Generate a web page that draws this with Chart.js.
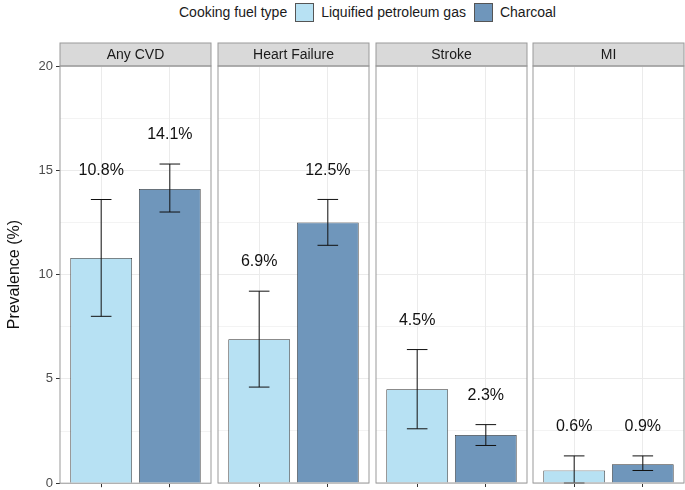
<!DOCTYPE html>
<html>
<head>
<meta charset="utf-8">
<script src="https://cdn.jsdelivr.net/npm/chart.js@4/dist/chart.umd.min.js"></script>
<style>
  body { margin: 0; background: #fff; font-family: 'Liberation Sans', Arial, sans-serif; }
  #wrap { position: relative; width: 685px; height: 490px; overflow: hidden; }
  .panel { position: absolute; top: 0; }
  #legend { position: absolute; left: 179px; top: 2px; height: 20px; display: flex; align-items: center; font-size: 14px; color: #1a1a1a; white-space: nowrap; }
  #legend .key { width: 19px; height: 19px; box-sizing: border-box; border: 1px solid #555; margin: 0 7px 0 8px; }
</style>
</head>
<body>
<div id="wrap">
  <div id="legend"></div>
  <canvas id="p0" class="panel"></canvas>
  <canvas id="p1" class="panel"></canvas>
  <canvas id="p2" class="panel"></canvas>
  <canvas id="p3" class="panel"></canvas>
</div>
<script>
// data
const panels = ['Any CVD', 'Heart Failure', 'Stroke', 'MI'];
const fuelTypes = ['Liquified petroleum gas', 'Charcoal'];
const lpgValues = [10.8, 6.9, 4.5, 0.6];
const lpgLower = [8.0, 4.6, 2.6, 0.0];
const lpgUpper = [13.6, 9.2, 6.4, 1.3];
const charcoalValues = [14.1, 12.5, 2.3, 0.9];
const charcoalLower = [13.0, 11.4, 1.8, 0.6];
const charcoalUpper = [15.3, 13.6, 2.8, 1.3];
const yTicks = [0, 5, 10, 15, 20];

const fuelColors = ['#b7e1f3', '#6f96bb'];
const panelLefts = [60, 218, 375.5, 533];
const panelWidth = 151;

// legend as html text
const legend = document.getElementById('legend');
legend.innerHTML = '<span>Cooking fuel type</span>' + fuelTypes.map((f, i) =>
  `<span class="key" style="background:${fuelColors[i]}"></span><span>${f}</span>`).join('');

// strip, border, error bars and value labels
const facetPlugin = {
  id: 'facet',
  beforeDatasetsDraw(chart) {
    const { ctx, chartArea: a } = chart;
    ctx.save();
    ctx.fillStyle = '#d9d9d9';
    ctx.fillRect(a.left, 43, a.right - a.left, 23);
    ctx.strokeStyle = '#999';
    ctx.lineWidth = 1;
    ctx.strokeRect(a.left, 43, a.right - a.left, 23);
    ctx.fillStyle = '#1a1a1a';
    ctx.font = '14px "Liberation Sans", Arial, sans-serif';
    ctx.textAlign = 'center';
    ctx.textBaseline = 'middle';
    ctx.fillText(chart.options.panelTitle, (a.left + a.right) / 2, 55);
    ctx.restore();
  },
  afterDatasetsDraw(chart) {
    const { ctx, chartArea: a, scales } = chart;
    const x = scales.x, y = scales.y;
    const err = chart.options.errors;
    ctx.save();
    ctx.strokeStyle = '#111';
    ctx.lineWidth = 1;
    err.forEach((e, i) => {
      const cx = x.getPixelForValue(i + 1);
      const l = x.getPixelForValue(i + 1 - 0.15), r = x.getPixelForValue(i + 1 + 0.15);
      const top = y.getPixelForValue(e.hi), bot = y.getPixelForValue(e.lo);
      ctx.beginPath();
      ctx.moveTo(cx, top); ctx.lineTo(cx, bot);
      ctx.moveTo(l, top); ctx.lineTo(r, top);
      ctx.moveTo(l, bot); ctx.lineTo(r, bot);
      ctx.stroke();
      ctx.fillStyle = '#111';
      ctx.font = '16px "Liberation Sans", Arial, sans-serif';
      ctx.textAlign = 'center';
      ctx.textBaseline = 'middle';
      ctx.fillText(e.v.toFixed(1) + '%', cx, y.getPixelForValue(e.hi + 1.4));
    });
    ctx.strokeStyle = '#999';
    ctx.strokeRect(a.left, a.top, a.right - a.left, a.bottom - a.top);
    ctx.restore();
  }
};

function createPanel(canvas, p) {
  const first = p === 0;
  const left = first ? 0 : panelLefts[p] - 2;
  const width = panelLefts[p] + panelWidth + 2 - left;
  // first panel loses a few px at the bottom to the y tick label overflow
  const height = first ? 494 : 490;
  canvas.style.left = left + 'px';
  canvas.width = width;
  canvas.height = height;
  canvas.style.width = width + 'px';
  canvas.style.height = height + 'px';

  new Chart(canvas, {
    type: 'bar',
    data: {
      datasets: [{
        data: [{ x: 1, y: lpgValues[p] }, { x: 2, y: charcoalValues[p] }],
        backgroundColor: fuelColors,
        borderColor: '#333',
        borderWidth: 0.8,
        barPercentage: 0.9,
        categoryPercentage: 1
      }]
    },
    plugins: [facetPlugin],
    options: {
      responsive: false,
      animation: false,
      panelTitle: panels[p],
      errors: [
        { v: lpgValues[p], lo: lpgLower[p], hi: lpgUpper[p] },
        { v: charcoalValues[p], lo: charcoalLower[p], hi: charcoalUpper[p] }
      ],
      layout: { padding: { top: 66, bottom: 0, left: first ? 0 : 2, right: 2 } },
      plugins: { legend: { display: false }, tooltip: { enabled: false } },
      scales: {
        x: {
          type: 'linear', min: 0.4, max: 2.6,
          offset: false,
          afterBuildTicks: (s) => { s.ticks = [{ value: 1 }, { value: 2 }]; },
          afterFit: (s) => { s.height = 7; },
          ticks: { display: false },
          border: { display: false },
          grid: { offset: false, color: '#ebebeb', tickColor: '#333', tickLength: 4, drawTicks: true }
        },
        y: {
          min: 0, max: 20,
          afterBuildTicks: (s) => { s.ticks = [0, 2.5, 5, 7.5, 10, 12.5, 15, 17.5, 20].map(v => ({ value: v })); },
          afterFit: (s) => { s.width = first ? 60 : 0; },
          border: { display: false },
          ticks: {
            display: first,
            color: '#4d4d4d',
            padding: 3,
            font: { family: 'Liberation Sans', size: 13 },
            callback: (v) => yTicks.includes(v) ? String(v) : ''
          },
          grid: {
            color: '#ebebeb',
            lineWidth: (c) => yTicks.includes(c.tick && c.tick.value) ? 1 : 0.6,
            drawTicks: first,
            tickLength: 4,
            tickColor: (c) => yTicks.includes(c.tick && c.tick.value) ? '#333' : 'rgba(0,0,0,0)'
          },
          title: {
            display: first,
            text: 'Prevalence (%)',
            color: '#111',
            font: { family: 'Liberation Sans', size: 16 },
            padding: { top: 5, bottom: 0 }
          }
        }
      }
    }
  });
}

panels.forEach((_, p) => createPanel(document.getElementById('p' + p), p));
</script>
</body>
</html>
